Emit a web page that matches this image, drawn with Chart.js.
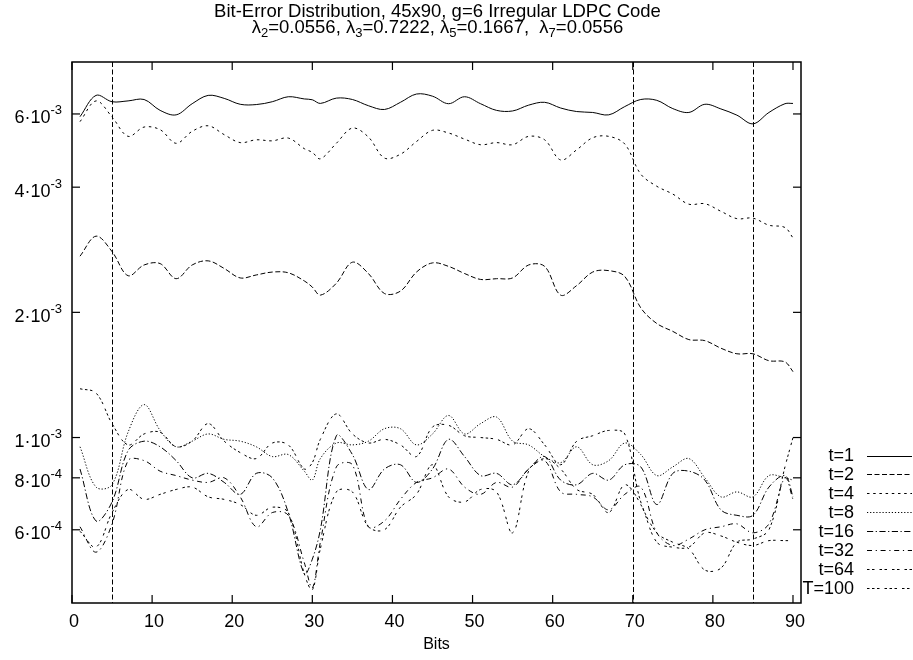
<!DOCTYPE html>
<html>
<head>
<meta charset="utf-8">
<title>Bit-Error Distribution</title>
<script src="https://cdn.jsdelivr.net/npm/chart.js@4.4.0/dist/chart.umd.min.js"></script>
<style>
    html, body { margin: 0; padding: 0; background: #ffffff; }
    #wrap { width: 913px; height: 660px; }
</style>
</head>
<body>
<div id="wrap"><canvas id="chartBitError" width="913" height="660"></canvas></div>
<script>
// Datos (posición de bit -> tasa de error)
const bits = [1, 3, 5, 7, 9, 11, 13, 15, 17, 19, 21, 23, 25, 27, 29, 30,
    31, 33, 35, 37, 39, 41, 43, 45, 47, 49, 51, 53, 55, 57, 59,
    61, 63, 65, 67, 69, 71, 73, 75, 77, 79, 81, 83, 85, 87, 89, 90];

const seriesLabels = ['t=1', 't=2', 't=4', 't=8', 't=16', 't=32', 't=64', 'T=100'];

const errT1 = [5.91e-3, 6.65e-3, 6.42e-3, 6.45e-3, 6.5e-3, 6.12e-3, 5.97e-3, 6.35e-3, 6.65e-3, 6.54e-3, 6.33e-3, 6.32e-3, 6.42e-3, 6.6e-3, 6.52e-3, 6.49e-3,
    6.36e-3, 6.55e-3, 6.5e-3, 6.28e-3, 6.15e-3, 6.4e-3, 6.7e-3, 6.62e-3, 6.35e-3, 6.6e-3, 6.35e-3, 6.12e-3, 6.1e-3, 6.3e-3, 6.4e-3,
    6.2e-3, 6.08e-3, 6.05e-3, 5.97e-3, 6.25e-3, 6.5e-3, 6.47e-3, 6.18e-3, 6.05e-3, 6.33e-3, 6.17e-3, 5.96e-3, 5.68e-3, 6.05e-3, 6.35e-3, 6.36e-3];

const errT2 = [2.73e-3, 3.05e-3, 2.8e-3, 2.45e-3, 2.6e-3, 2.62e-3, 2.41e-3, 2.6e-3, 2.66e-3, 2.55e-3, 2.42e-3, 2.46e-3, 2.5e-3, 2.49e-3, 2.38e-3, 2.3e-3,
    2.2e-3, 2.35e-3, 2.64e-3, 2.48e-3, 2.22e-3, 2.25e-3, 2.5e-3, 2.63e-3, 2.58e-3, 2.48e-3, 2.4e-3, 2.41e-3, 2.42e-3, 2.6e-3, 2.58e-3,
    2.2e-3, 2.32e-3, 2.5e-3, 2.52e-3, 2.44e-3, 2.05e-3, 1.88e-3, 1.8e-3, 1.72e-3, 1.71e-3, 1.64e-3, 1.59e-3, 1.59e-3, 1.53e-3, 1.52e-3, 1.44e-3];

const errT4 = [5.75e-3, 6.45e-3, 5.9e-3, 5.3e-3, 5.58e-3, 5.5e-3, 5.1e-3, 5.45e-3, 5.62e-3, 5.35e-3, 5.12e-3, 5.2e-3, 5.17e-3, 5.25e-3, 4.95e-3, 4.85e-3,
    4.68e-3, 5.1e-3, 5.55e-3, 5.28e-3, 4.7e-3, 4.8e-3, 5.15e-3, 5.48e-3, 5.4e-3, 5.22e-3, 5.06e-3, 5.12e-3, 5.06e-3, 5.3e-3, 5.2e-3,
    4.65e-3, 4.92e-3, 5.26e-3, 5.3e-3, 5.08e-3, 4.3e-3, 4.02e-3, 3.85e-3, 3.64e-3, 3.65e-3, 3.5e-3, 3.36e-3, 3.37e-3, 3.24e-3, 3.2e-3, 3.02e-3];

const errT8 = [9.5e-4, 7.6e-4, 7.7e-4, 10.3e-4, 12.0e-4, 10.4e-4, 9.5e-4, 9.8e-4, 10.2e-4, 9.9e-4, 9.8e-4, 9.5e-4, 9.0e-4, 9.1e-4, 8.3e-4, 7.9e-4,
    8.9e-4, 9.7e-4, 9.6e-4, 9.8e-4, 10.5e-4, 10.5e-4, 9.6e-4, 10.2e-4, 11.3e-4, 10.2e-4, 10.8e-4, 11.2e-4, 9.8e-4, 9.6e-4, 9.0e-4,
    8.7e-4, 9.5e-4, 8.6e-4, 8.8e-4, 9.7e-4, 9.1e-4, 8.1e-4, 8.5e-4, 8.9e-4, 8.0e-4, 7.2e-4, 7.4e-4, 7.2e-4, 8.1e-4, 8.0e-4, 7.9e-4];

const errT16 = [8.4e-4, 6.3e-4, 7.0e-4, 9.3e-4, 9.8e-4, 9.5e-4, 8.8e-4, 8.0e-4, 8.2e-4, 7.8e-4, 7.3e-4, 8.2e-4, 8.0e-4, 6.6e-4, 4.7e-4, 5.1e-4,
    6.0e-4, 10.1e-4, 9.1e-4, 7.5e-4, 8.4e-4, 8.6e-4, 7.8e-4, 8.4e-4, 9.9e-4, 9.0e-4, 8.1e-4, 8.2e-4, 7.7e-4, 8.4e-4, 9.0e-4,
    7.9e-4, 7.7e-4, 8.2e-4, 7.9e-4, 8.6e-4, 8.5e-4, 6.9e-4, 8.2e-4, 8.3e-4, 7.9e-4, 6.7e-4, 6.5e-4, 6.5e-4, 7.6e-4, 8.1e-4, 7.2e-4];

const errT32 = [6.1e-4, 5.3e-4, 6.2e-4, 8.8e-4, 8.8e-4, 8.3e-4, 8.1e-4, 7.9e-4, 7.8e-4, 8.0e-4, 7.2e-4, 6.1e-4, 6.6e-4, 6.5e-4, 5.0e-4, 4.35e-4,
    5.6e-4, 8.5e-4, 8.6e-4, 6.1e-4, 6.3e-4, 7.1e-4, 7.8e-4, 8.0e-4, 8.4e-4, 7.6e-4, 7.3e-4, 7.8e-4, 7.6e-4, 8.4e-4, 8.8e-4,
    7.4e-4, 7.3e-4, 7.2e-4, 6.7e-4, 7.3e-4, 7.6e-4, 5.9e-4, 5.5e-4, 5.7e-4, 6.0e-4, 6.1e-4, 6.2e-4, 5.9e-4, 6.2e-4, 8.0e-4, 7.1e-4];

const errT64 = [5.95e-4, 5.45e-4, 6.6e-4, 7.5e-4, 7.1e-4, 7.3e-4, 7.5e-4, 7.6e-4, 7.2e-4, 7.1e-4, 6.9e-4, 6.5e-4, 6.8e-4, 6.6e-4, 4.7e-4, 4.3e-4,
    5.4e-4, 7.4e-4, 7.4e-4, 6.1e-4, 6.0e-4, 6.8e-4, 7.3e-4, 8.6e-4, 7.2e-4, 7.0e-4, 7.5e-4, 7.4e-4, 5.9e-4, 8.3e-4, 8.9e-4,
    8.4e-4, 7.5e-4, 7.3e-4, 6.6e-4, 7.7e-4, 6.9e-4, 5.6e-4, 5.45e-4, 5.45e-4, 5.9e-4, 5.8e-4, 5.6e-4, 5.5e-4, 5.65e-4, 5.65e-4, 5.65e-4];

const errT100 = [13.1e-4, 12.8e-4, 10.8e-4, 9.6e-4, 10.2e-4, 10.3e-4, 9.5e-4, 9.8e-4, 10.8e-4, 9.8e-4, 9.2e-4, 8.9e-4, 9.7e-4, 9.6e-4, 8.4e-4, 8.7e-4,
    9.9e-4, 11.4e-4, 10.2e-4, 9.7e-4, 9.9e-4, 9.6e-4, 9.0e-4, 10.6e-4, 10.7e-4, 10.1e-4, 10.0e-4, 9.9e-4, 9.6e-4, 10.5e-4, 9.6e-4,
    8.6e-4, 9.8e-4, 10.1e-4, 10.4e-4, 10.2e-4, 7.0e-4, 5.9e-4, 5.6e-4, 5.4e-4, 4.8e-4, 4.85e-4, 5.6e-4, 5.7e-4, 6.0e-4, 8.5e-4, 10.0e-4];

const allSeries = [errT1, errT2, errT4, errT8, errT16, errT32, errT64, errT100];

// Marcas de eje y líneas verticales de referencia
const xTickValues = [0, 10, 20, 30, 40, 50, 60, 70, 80, 90];
const yTickValues = [6e-4, 8e-4, 1e-3, 2e-3, 4e-3, 6e-3];
const markerBits = [5, 70, 85];

const titleLine1 = 'Bit-Error Distribution, 45x90, g=6 Irregular LDPC Code';
// [texto, subíndice]
const titleLine2 = [
    ['λ', false], ['2', true], ['=0.0556, λ', false], ['3', true], ['=0.7222, λ', false],
    ['5', true], ['=0.1667,  λ', false], ['7', true], ['=0.0556', false]
];

// Patrones de línea estilo gnuplot
const DASHES = [
    [],
    [5, 2.5],
    [2.5, 3.7],
    [1.2, 1.9],
    [6.2, 2.5, 1.2, 2.5],
    [5, 3.7, 1.2, 3.7],
    [2.5, 2.5, 2.5, 5],
    [2.5, 2.5, 2.5, 2.5, 2.5, 5]
];

const FONT = '"Liberation Sans", Arial, Helvetica, sans-serif';
Chart.defaults.font.family = FONT;
Chart.defaults.color = '#000';

const gnuplotFrame = {
    id: 'gnuplotFrame',
    beforeDatasetsDraw(chart) {
        const { ctx, chartArea: a, scales: { x } } = chart;
        ctx.save();
        ctx.strokeStyle = '#000';
        ctx.lineWidth = 1;
        ctx.setLineDash([5, 2.5]);
        markerBits.forEach(b => {
            const px = Math.round(x.getPixelForValue(b)) + 0.5;
            ctx.beginPath();
            ctx.moveTo(px, a.top);
            ctx.lineTo(px, a.bottom);
            ctx.stroke();
        });
        ctx.restore();
    },
    afterDraw(chart) {
        const { ctx, chartArea: a, scales: { x, y } } = chart;
        ctx.save();
        ctx.strokeStyle = '#000';
        ctx.fillStyle = '#000';
        ctx.setLineDash([]);

        // Marco
        ctx.lineWidth = 1.5;
        ctx.strokeRect(a.left, a.top, a.right - a.left, a.bottom - a.top);

        // Marcas hacia dentro en los cuatro lados
        ctx.lineWidth = 1.2;
        const seg = (x1, y1, x2, y2) => {
            ctx.beginPath(); ctx.moveTo(x1, y1); ctx.lineTo(x2, y2); ctx.stroke();
        };
        x.ticks.forEach(t => {
            const px = x.getPixelForValue(t.value);
            seg(px, a.bottom, px, a.bottom - 8);
            seg(px, a.top, px, a.top + 8);
        });
        y.ticks.forEach(t => {
            const py = y.getPixelForValue(t.value);
            seg(a.left, py, a.left + 8, py);
            seg(a.right, py, a.right - 8, py);
        });

        // Etiquetas del eje Y con exponente
        const bigFont = '18px ' + FONT;
        const supFont = '13px ' + FONT;
        ctx.textBaseline = 'alphabetic';
        ctx.textAlign = 'left';
        y.ticks.forEach(t => {
            const v = t.value;
            const e = Math.floor(Math.log10(v) + 1e-9);
            const m = Math.round(v / Math.pow(10, e));
            const base = m + '·10';
            const exp = String(e).replace('-', '-');
            ctx.font = bigFont;
            const wb = ctx.measureText(base).width;
            ctx.font = supFont;
            const we = ctx.measureText(exp).width;
            const py = y.getPixelForValue(v);
            const x0 = 62 - wb - we;
            ctx.font = bigFont;
            ctx.fillText(base, x0, py + 9.5);
            ctx.font = supFont;
            ctx.fillText(exp, x0 + wb, py + 0.5);
        });

        // Título
        const cx = (a.left + a.right) / 2 + 1;
        ctx.textAlign = 'center';
        ctx.font = '18.5px ' + FONT;
        ctx.fillText(titleLine1, cx, 17);
        const subFont = '13px ' + FONT;
        let total = 0;
        titleLine2.forEach(([s, sub]) => {
            ctx.font = sub ? subFont : ctx.font = '18.5px ' + FONT;
            total += ctx.measureText(s).width;
        });
        let tx = cx - total / 2;
        ctx.textAlign = 'left';
        titleLine2.forEach(([s, sub]) => {
            ctx.font = sub ? subFont : '18.5px ' + FONT;
            ctx.fillText(s, tx, sub ? 37 : 33);
            tx += ctx.measureText(s).width;
        });

        // Leyenda
        ctx.font = bigFont;
        ctx.textAlign = 'right';
        ctx.textBaseline = 'middle';
        chart.data.datasets.forEach((ds, i) => {
            const ly = 455.5 + i * 18.9;
            ctx.fillText(ds.label, 854, ly + 1);
            ctx.lineWidth = 1;
            ctx.setLineDash(ds.borderDash);
            seg(867, Math.round(ly) + 0.5, 912, Math.round(ly) + 0.5);
            ctx.setLineDash([]);
        });
        ctx.restore();
    }
};

new Chart(document.getElementById('chartBitError'), {
    type: 'line',
    data: {
        datasets: seriesLabels.map((label, i) => ({
            label: label,
            data: bits.map((b, j) => ({ x: b, y: allSeries[i][j] })),
            borderColor: '#000',
            backgroundColor: '#000',
            borderWidth: 1,
            borderDash: DASHES[i],
            pointRadius: 0,
            tension: 0.35,
            fill: false
        }))
    },
    options: {
        responsive: false,
        animation: false,
        layout: { padding: { top: 62, right: 112, left: 0, bottom: 0 } },
        plugins: {
            legend: { display: false },
            title: { display: false },
            tooltip: { enabled: false }
        },
        scales: {
            x: {
                type: 'linear',
                min: 0,
                max: 91,
                grid: { display: false, drawTicks: false },
                border: { display: false },
                afterBuildTicks: s => { s.ticks = xTickValues.map(v => ({ value: v })); },
                afterFit: s => { s.height = 57; },
                ticks: {
                    font: { size: 18 },
                    color: '#000',
                    padding: 8,
                    labelOffset: 2,
                    maxRotation: 0,
                    autoSkip: false
                },
                title: {
                    display: true,
                    text: 'Bits',
                    font: { size: 16 },
                    color: '#000',
                    padding: { top: 0, bottom: 6 }
                }
            },
            y: {
                type: 'logarithmic',
                min: 4e-4,
                max: 8e-3,
                grid: { display: false, drawTicks: false },
                border: { display: false },
                afterBuildTicks: s => { s.ticks = yTickValues.map(v => ({ value: v })); },
                afterFit: s => { s.width = 72; },
                ticks: { display: false }
            }
        }
    },
    plugins: [gnuplotFrame]
});
</script>
</body>
</html>
